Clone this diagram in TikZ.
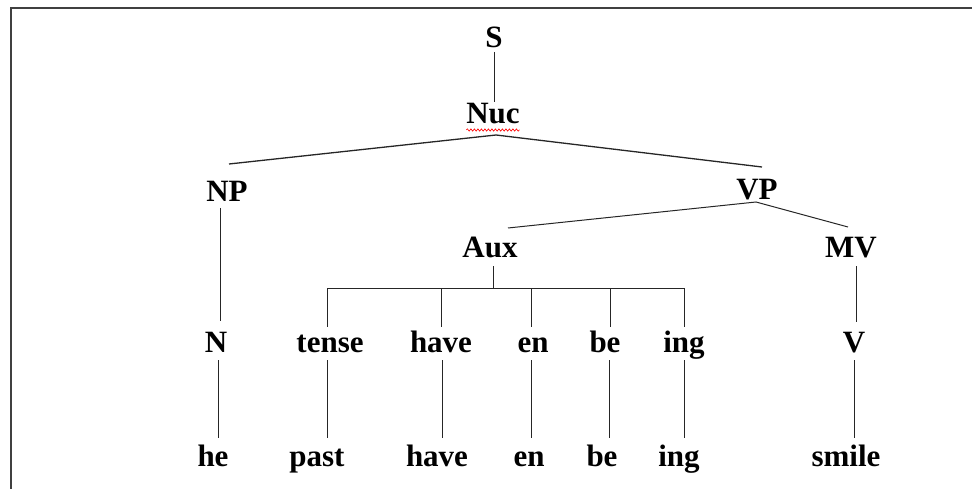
\documentclass[tikz,border=0pt]{standalone}
\usepackage{fontspec}
\setmainfont{Liberation Serif}
\usetikzlibrary{decorations.pathmorphing}
\begin{document}
\begin{tikzpicture}[x=1pt,y=-1pt,
  lbl/.style={inner sep=0pt, outer sep=0pt, anchor=base, text height=21pt, text depth=0pt,
    font=\fontsize{31}{36}\selectfont\bfseries},
  edge/.style={line width=1pt, draw=black!85},
  frame/.style={line width=2pt, draw=black!75}]
\useasboundingbox (0,0) rectangle (972,489);
\draw[frame] (972,8) -- (11,8) -- (11,489);
% nodes
\node[lbl] (S) at (494,48) {S};
\node[lbl] (Nuc) at (493,124) {Nuc};
\node[lbl] (NP) at (227,202) {NP};
\node[lbl] (VP) at (757,200) {VP};
\node[lbl] (Aux) at (490,258) {Aux};
\node[lbl] (MV) at (851,258) {MV};
\node[lbl] (N) at (216,352) {N};
\node[lbl] (tense) at (330,352) {tense};
\node[lbl] (haveA) at (441,352) {have};
\node[lbl] (enA) at (533,352) {en};
\node[lbl] (beA) at (605,352) {be};
\node[lbl] (ingA) at (684,352) {ing};
\node[lbl] (V) at (854,352) {V};
\node[lbl] (he) at (213,466) {he};
\node[lbl] (past) at (317,466) {past};
\node[lbl] (haveB) at (437,466) {have};
\node[lbl] (enB) at (529,466) {en};
\node[lbl] (beB) at (602,466) {be};
\node[lbl] (ingB) at (679,466) {ing};
\node[lbl] (smile) at (846,466) {smile};
% red wavy underline
\draw[red, line width=0.6pt, decorate, decoration={snake, amplitude=1.2pt, segment length=3.5pt}]
  ([shift={(0,6)}]Nuc.base west) -- ([shift={(0,6)}]Nuc.base east);
% connectors
\draw[edge] ([shift={(0,4)}]S.south) -- ([shift={(1,-1)}]Nuc.north);
\draw[edge, line width=1.3pt] ([shift={(2,-17)}]NP.north) -- ([shift={(3,11)}]Nuc.south) -- ([shift={(5,-12)}]VP.north);
\draw[edge] ([shift={(-7,6)}]NP.south) -- ([shift={(4,-10)}]N.north);
\draw[edge] ([shift={(18,-9)}]Aux.north) -- ([shift={(-1,2)}]VP.south) -- ([shift={(-3,-10)}]MV.north);
\coordinate (bar) at ([shift={(3,30)}]Aux.south);
\draw[edge] ([shift={(3,8)}]Aux.south) -- (bar);
\draw[edge] ([xshift=-3pt]bar -| tense.north) -- (bar -| ingA.north);
\draw[edge] ([xshift=-3pt]bar -| tense.north) -- ([shift={(-3,-4)}]tense.north);
\draw[edge] (bar -| haveA.north) -- ([shift={(0,-4)}]haveA.north);
\draw[edge] ([xshift=-2pt]bar -| enA.north) -- ([shift={(-2,-4)}]enA.north);
\draw[edge] ([xshift=5pt]bar -| beA.north) -- ([shift={(5,-4)}]beA.north);
\draw[edge] (bar -| ingA.north) -- ([shift={(0,-4)}]ingA.north);
\draw[edge] ([shift={(5,8)}]MV.south) -- ([shift={(2,-9)}]V.north);
\draw[edge] ([shift={(2,8)}]N.south) -- ([shift={(5,-7)}]he.north);
\draw[edge] ([shift={(-3,8)}]tense.south) -- ([shift={(10,-7)}]past.north);
\draw[edge] ([shift={(1,8)}]haveA.south) -- ([shift={(5,-7)}]haveB.north);
\draw[edge] ([shift={(-2,8)}]enA.south) -- ([shift={(2,-7)}]enB.north);
\draw[edge] ([shift={(4,8)}]beA.south) -- ([shift={(7,-7)}]beB.north);
\draw[edge] ([shift={(0,8)}]ingA.south) -- ([shift={(5,-7)}]ingB.north);
\draw[edge] ([shift={(0,8)}]V.south) -- ([shift={(8,-7)}]smile.north);
\end{tikzpicture}
\end{document}
